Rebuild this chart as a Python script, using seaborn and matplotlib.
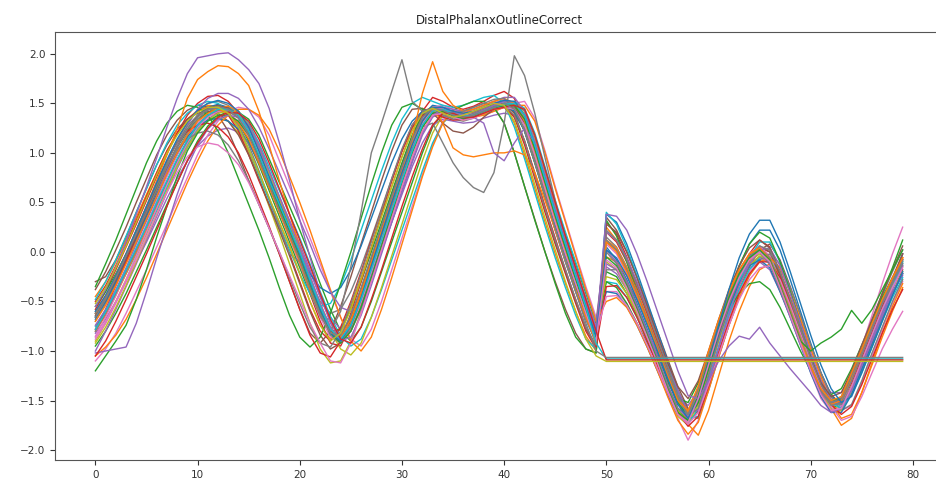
import matplotlib
matplotlib.use("Agg")
import matplotlib.pyplot as plt
import seaborn as sns
import pandas as pd

TITLE = "DistalPhalanxOutlineCorrect"
X_TICKS = [0, 10, 20, 30, 40, 50, 60, 70, 80]
Y_TICKS = [-2.0, -1.5, -1.0, -0.5, 0.0, 0.5, 1.0, 1.5, 2.0]

# ---- series values (80 time steps each) ----
s01 = [-0.65,-0.50,-0.30,-0.10,0.10,0.32,0.55,0.77,0.98,1.17,
       1.32,1.41,1.46,1.44,1.36,1.20,0.95,0.70,0.46,0.22,
       -0.02,-0.30,-0.57,-0.80,-0.86,-0.68,-0.42,-0.12,0.18,0.48,
       0.78,1.08,1.32,1.44,1.43,1.39,1.37,1.39,1.43,1.47,
       1.50,1.46,1.28,0.98,0.64,0.32,0.02,-0.28,-0.57,-0.86,
       0.05,-0.08,-0.28,-0.52,-0.78,-1.04,-1.30,-1.54,-1.63,-1.38,
       -1.05,-0.72,-0.43,-0.20,-0.04,0.02,-0.10,-0.36,-0.63,-0.90,
       -1.16,-1.39,-1.52,-1.49,-1.27,-1.02,-0.77,-0.52,-0.31,-0.12]
s02 = [-0.45,-0.30,-0.10,0.12,0.35,0.58,0.80,1.02,1.20,1.34,
       1.43,1.48,1.47,1.40,1.25,1.02,0.78,0.54,0.30,0.06,
       -0.22,-0.50,-0.74,-0.88,-0.78,-0.55,-0.26,0.05,0.36,0.66,
       0.96,1.24,1.42,1.46,1.41,1.38,1.40,1.44,1.48,1.52,
       1.48,1.30,0.98,0.64,0.30,-0.02,-0.32,-0.60,-0.85,-1.00,
       0.25,0.12,-0.08,-0.32,-0.58,-0.85,-1.12,-1.40,-1.60,-1.55,
       -1.22,-0.88,-0.56,-0.30,-0.10,0.05,0.02,-0.20,-0.48,-0.78,
       -1.05,-1.30,-1.47,-1.50,-1.32,-1.08,-0.82,-0.56,-0.32,-0.08]
s03 = [-0.95,-0.80,-0.62,-0.42,-0.20,0.02,0.25,0.48,0.70,0.92,
       1.12,1.27,1.37,1.42,1.41,1.34,1.18,0.94,0.70,0.46,
       0.22,-0.04,-0.32,-0.58,-0.80,-0.90,-0.76,-0.50,-0.20,0.10,
       0.40,0.70,1.00,1.26,1.40,1.42,1.38,1.36,1.40,1.44,
       1.47,1.50,1.42,1.15,0.82,0.50,0.18,-0.12,-0.42,-0.72,
       -0.20,-0.25,-0.42,-0.64,-0.88,-1.12,-1.38,-1.60,-1.70,-1.52,
       -1.20,-0.88,-0.58,-0.32,-0.14,-0.05,-0.08,-0.28,-0.55,-0.82,
       -1.10,-1.35,-1.55,-1.58,-1.42,-1.18,-0.92,-0.66,-0.42,-0.22]
s04 = [-0.58,-0.40,-0.18,0.05,0.28,0.52,0.76,0.99,1.20,1.38,
       1.50,1.57,1.58,1.52,1.40,1.20,0.95,0.68,0.42,0.15,
       -0.12,-0.42,-0.70,-0.92,-0.95,-0.74,-0.45,-0.13,0.20,0.52,
       0.84,1.15,1.42,1.56,1.52,1.46,1.44,1.47,1.52,1.58,
       1.62,1.55,1.32,0.98,0.62,0.28,-0.04,-0.35,-0.65,-0.92,
       0.30,0.18,-0.05,-0.32,-0.62,-0.92,-1.22,-1.50,-1.72,-1.60,
       -1.25,-0.88,-0.55,-0.25,-0.02,0.12,0.05,-0.22,-0.52,-0.84,
       -1.15,-1.42,-1.62,-1.60,-1.38,-1.10,-0.82,-0.54,-0.28,-0.02]
s05 = [-0.82,-0.68,-0.50,-0.30,-0.10,0.10,0.32,0.54,0.74,0.92,
       1.07,1.17,1.23,1.25,1.21,1.10,0.92,0.70,0.48,0.26,
       0.04,-0.20,-0.45,-0.66,-0.78,-0.72,-0.52,-0.26,0.02,0.30,
       0.58,0.86,1.10,1.28,1.34,1.32,1.30,1.31,1.35,1.38,
       1.40,1.38,1.25,0.98,0.68,0.38,0.08,-0.22,-0.50,-0.76,
       -0.15,-0.22,-0.38,-0.58,-0.80,-1.02,-1.25,-1.45,-1.55,-1.40,
       -1.12,-0.82,-0.55,-0.32,-0.16,-0.10,-0.18,-0.40,-0.64,-0.88,
       -1.10,-1.30,-1.42,-1.42,-1.26,-1.05,-0.82,-0.60,-0.40,-0.24]
s06 = [-0.38,-0.20,0.02,0.25,0.50,0.74,0.98,1.18,1.33,1.43,
       1.48,1.46,1.38,1.22,0.98,0.72,0.48,0.24,-0.02,-0.30,
       -0.58,-0.82,-0.92,-0.80,-0.55,-0.25,0.08,0.40,0.72,1.02,
       1.28,1.44,1.45,1.40,1.37,1.38,1.42,1.46,1.50,1.46,
       1.30,1.00,0.66,0.33,0.00,-0.30,-0.58,-0.82,-0.98,-1.02,
       0.35,0.22,0.00,-0.25,-0.52,-0.80,-1.08,-1.36,-1.58,-1.62,
       -1.35,-1.00,-0.66,-0.38,-0.15,0.02,0.08,-0.08,-0.35,-0.64,
       -0.94,-1.22,-1.44,-1.54,-1.44,-1.20,-0.94,-0.68,-0.42,-0.18]
s07 = [-1.10,-0.98,-0.82,-0.62,-0.40,-0.18,0.05,0.28,0.52,0.75,
       0.98,1.18,1.32,1.42,1.46,1.44,1.36,1.18,0.92,0.66,
       0.40,0.14,-0.12,-0.40,-0.66,-0.88,-0.95,-0.78,-0.50,-0.18,
       0.14,0.46,0.78,1.08,1.32,1.44,1.42,1.38,1.38,1.42,
       1.46,1.50,1.52,1.35,1.02,0.66,0.32,-0.02,-0.35,-0.66,
       -0.40,-0.40,-0.52,-0.72,-0.95,-1.18,-1.45,-1.68,-1.90,-1.70,
       -1.32,-0.98,-0.66,-0.40,-0.20,-0.08,-0.04,-0.16,-0.42,-0.70,
       -0.98,-1.25,-1.48,-1.60,-1.55,-1.32,-1.05,-0.78,-0.52,-0.30]
s08 = [-0.62,-0.46,-0.26,-0.05,0.18,0.42,0.66,0.90,1.12,1.30,
       1.43,1.50,1.52,1.48,1.38,1.20,0.96,0.70,0.45,0.20,
       -0.05,-0.30,-0.50,-0.62,-0.58,-0.40,-0.15,0.14,0.44,0.74,
       1.02,1.26,1.40,1.45,1.40,1.34,1.32,1.35,1.40,1.45,
       1.50,1.48,1.32,1.02,0.68,0.36,0.05,-0.25,-0.52,-0.70,
       0.15,0.05,-0.15,-0.40,-0.66,-0.94,-1.22,-1.48,-1.60,-1.42,
       -1.10,-0.78,-0.48,-0.24,-0.06,0.04,-0.04,-0.28,-0.56,-0.86,
       -1.14,-1.38,-1.52,-1.46,-1.22,-0.96,-0.70,-0.44,-0.20,0.02]
s09 = [-0.90,-0.72,-0.50,-0.28,-0.05,0.18,0.42,0.65,0.88,1.08,
       1.24,1.33,1.36,1.32,1.20,1.00,0.74,0.46,0.18,-0.12,
       -0.42,-0.72,-0.98,-1.12,-1.10,-0.90,-0.60,-0.28,0.05,0.38,
       0.70,1.00,1.26,1.40,1.42,1.36,1.33,1.36,1.40,1.44,
       1.46,1.42,1.24,0.94,0.60,0.28,-0.02,-0.32,-0.62,-0.90,
       -0.10,-0.18,-0.38,-0.62,-0.88,-1.15,-1.42,-1.66,-1.75,-1.50,
       -1.15,-0.82,-0.52,-0.28,-0.10,-0.02,-0.10,-0.35,-0.62,-0.90,
       -1.18,-1.42,-1.58,-1.56,-1.35,-1.10,-0.84,-0.58,-0.35,-0.15]
s10 = [-0.75,-0.60,-0.42,-0.22,-0.02,0.20,0.42,0.65,0.88,1.08,
       1.25,1.37,1.44,1.46,1.42,1.30,1.10,0.86,0.62,0.38,
       0.14,-0.12,-0.40,-0.65,-0.85,-0.95,-0.88,-0.66,-0.38,-0.08,
       0.22,0.52,0.82,1.10,1.30,1.40,1.38,1.36,1.40,1.44,
       1.48,1.52,1.45,1.20,0.86,0.52,0.20,-0.10,-0.40,-0.70,
       -0.30,-0.32,-0.46,-0.66,-0.88,-1.12,-1.38,-1.62,-1.74,-1.58,
       -1.28,-0.95,-0.64,-0.38,-0.18,-0.06,-0.06,-0.22,-0.48,-0.76,
       -1.04,-1.30,-1.50,-1.56,-1.44,-1.22,-0.96,-0.70,-0.46,-0.26]
s11 = [-0.68,-0.50,-0.30,-0.08,0.15,0.38,0.62,0.85,1.06,1.24,
       1.38,1.46,1.49,1.46,1.37,1.20,0.96,0.70,0.44,0.18,
       -0.08,-0.36,-0.62,-0.82,-0.86,-0.66,-0.38,-0.06,0.26,0.58,
       0.88,1.16,1.38,1.48,1.46,1.40,1.38,1.41,1.46,1.50,
       1.52,1.44,1.22,0.90,0.56,0.22,-0.10,-0.40,-0.68,-0.92,
       0.38,0.30,0.08,-0.20,-0.50,-0.80,-1.10,-1.40,-1.62,-1.55,
       -1.20,-0.82,-0.45,-0.15,0.08,0.22,0.22,0.02,-0.28,-0.60,
       -0.92,-1.22,-1.45,-1.55,-1.40,-1.14,-0.86,-0.58,-0.30,-0.02]
s12 = [-0.80,-0.64,-0.44,-0.22,0.00,0.22,0.46,0.70,0.92,1.12,
       1.28,1.40,1.46,1.47,1.42,1.28,1.06,0.80,0.54,0.28,
       0.02,-0.25,-0.52,-0.76,-0.88,-0.78,-0.55,-0.26,0.05,0.36,
       0.66,0.96,1.22,1.38,1.44,1.40,1.37,1.38,1.42,1.46,
       1.50,1.50,1.36,1.08,0.75,0.42,0.10,-0.20,-0.50,-0.80,
       -0.05,-0.10,-0.24,-0.44,-0.68,-0.95,-1.22,-1.50,-1.74,-1.85,
       -1.60,-1.25,-0.90,-0.60,-0.35,-0.18,-0.12,-0.22,-0.46,-0.74,
       -1.04,-1.32,-1.58,-1.75,-1.68,-1.42,-1.12,-0.82,-0.55,-0.32]
s13 = [-0.55,-0.40,-0.22,-0.02,0.20,0.42,0.64,0.86,1.06,1.22,
       1.34,1.41,1.43,1.40,1.30,1.12,0.88,0.62,0.36,0.10,
       -0.16,-0.42,-0.64,-0.80,-0.78,-0.58,-0.30,0.00,0.30,0.60,
       0.90,1.18,1.38,1.46,1.42,1.37,1.34,1.36,1.40,1.44,
       1.47,1.42,1.22,0.90,0.56,0.24,-0.06,-0.36,-0.62,-0.80,
       -0.30,-0.36,-0.52,-0.72,-0.92,-1.12,-1.32,-1.48,-1.52,-1.32,
       -1.05,-0.80,-0.58,-0.42,-0.32,-0.30,-0.38,-0.56,-0.78,-1.00,
       -1.20,-1.36,-1.44,-1.38,-1.18,-0.94,-0.70,-0.46,-0.26,-0.10]
s14 = [-0.50,-0.34,-0.14,0.08,0.32,0.56,0.80,1.02,1.20,1.34,
       1.42,1.46,1.45,1.38,1.22,0.98,0.72,0.48,0.24,-0.02,
       -0.30,-0.58,-0.80,-0.90,-0.76,-0.50,-0.20,0.12,0.42,0.72,
       1.02,1.28,1.42,1.44,1.40,1.36,1.37,1.41,1.45,1.49,
       1.49,1.36,1.08,0.74,0.40,0.08,-0.22,-0.52,-0.80,-0.98,
       0.20,0.10,-0.10,-0.36,-0.62,-0.90,-1.18,-1.45,-1.64,-1.52,
       -1.18,-0.84,-0.54,-0.28,-0.08,0.04,0.00,-0.22,-0.50,-0.80,
       -1.10,-1.36,-1.52,-1.52,-1.32,-1.06,-0.80,-0.54,-0.30,-0.06]
s15 = [-1.00,-0.80,-0.58,-0.35,-0.12,0.12,0.36,0.60,0.84,1.05,
       1.22,1.34,1.41,1.42,1.38,1.28,1.08,0.82,0.56,0.32,
       0.08,-0.18,-0.46,-0.70,-0.86,-0.80,-0.58,-0.30,0.00,0.30,
       0.60,0.90,1.18,1.36,1.42,1.40,1.37,1.37,1.40,1.44,
       1.47,1.49,1.38,1.10,0.78,0.45,0.14,-0.16,-0.46,-0.76,
       -0.12,-0.18,-0.35,-0.58,-0.82,-1.08,-1.34,-1.58,-1.68,-1.45,
       -1.12,-0.80,-0.50,-0.28,-0.12,-0.05,-0.12,-0.35,-0.62,-0.90,
       -1.18,-1.42,-1.56,-1.52,-1.30,-1.04,-0.78,-0.52,-0.32,-0.14]
s16 = [-0.30,-0.25,-0.08,0.15,0.40,0.64,0.88,1.08,1.24,1.34,
       1.40,1.42,1.40,1.32,1.18,0.98,0.74,0.48,0.22,-0.04,
       -0.32,-0.60,-0.84,-0.98,-0.92,-0.70,-0.40,-0.08,0.24,0.56,
       0.86,1.14,1.36,1.46,1.44,1.40,1.38,1.40,1.44,1.48,
       1.50,1.40,1.12,0.78,0.44,0.10,-0.20,-0.50,-0.78,-0.95,
       0.10,0.02,-0.18,-0.42,-0.68,-0.95,-1.22,-1.48,-1.66,-1.50,
       -1.15,-0.80,-0.48,-0.22,-0.04,0.06,0.00,-0.24,-0.52,-0.82,
       -1.12,-1.38,-1.54,-1.50,-1.28,-1.02,-0.76,-0.50,-0.26,-0.02]
s17 = [-0.85,-0.66,-0.44,-0.20,0.04,0.28,0.52,0.76,0.98,1.16,
       1.30,1.38,1.42,1.40,1.32,1.16,0.92,0.66,0.40,0.14,
       -0.12,-0.40,-0.66,-0.86,-0.92,-0.76,-0.50,-0.20,0.12,0.44,
       0.76,1.06,1.32,1.46,1.48,1.44,1.40,1.42,1.46,1.50,
       1.54,1.50,1.32,1.00,0.66,0.32,0.00,-0.30,-0.60,-0.88,
       0.08,-0.02,-0.22,-0.46,-0.72,-0.98,-1.25,-1.50,-1.62,-1.42,
       -1.08,-0.74,-0.44,-0.20,-0.02,0.06,-0.04,-0.30,-0.60,-0.92,
       -1.22,-1.48,-1.62,-1.55,-1.28,-0.96,-0.64,-0.32,-0.02,0.25]
s18 = [-0.70,-0.52,-0.32,-0.10,0.12,0.35,0.58,0.81,1.02,1.20,
       1.34,1.43,1.47,1.45,1.38,1.24,1.02,0.76,0.50,0.25,
       -0.02,-0.30,-0.58,-0.82,-0.92,-0.80,-0.55,-0.24,0.08,0.40,
       0.72,1.02,1.28,1.42,1.44,1.38,1.35,1.37,1.42,1.46,
       1.50,1.48,1.32,1.02,0.68,0.34,0.02,-0.28,-0.58,-0.88,
       -0.18,-0.18,-0.30,-0.48,-0.70,-0.94,-1.20,-1.45,-1.66,-1.68,
       -1.40,-1.06,-0.74,-0.46,-0.24,-0.08,-0.02,-0.12,-0.36,-0.64,
       -0.94,-1.22,-1.46,-1.60,-1.54,-1.30,-1.02,-0.76,-0.50,-0.28]
s19 = [-0.92,-0.76,-0.56,-0.34,-0.10,0.14,0.38,0.62,0.86,1.06,
       1.22,1.33,1.40,1.42,1.38,1.26,1.06,0.80,0.54,0.28,
       0.02,-0.26,-0.54,-0.80,-0.98,-1.04,-0.92,-0.66,-0.36,-0.04,
       0.28,0.60,0.92,1.20,1.38,1.42,1.38,1.36,1.39,1.43,
       1.46,1.48,1.40,1.14,0.80,0.46,0.14,-0.18,-0.48,-0.78,
       -0.25,-0.28,-0.42,-0.62,-0.86,-1.10,-1.36,-1.60,-1.72,-1.55,
       -1.22,-0.90,-0.60,-0.34,-0.14,-0.04,-0.08,-0.30,-0.58,-0.86,
       -1.14,-1.40,-1.58,-1.60,-1.42,-1.18,-0.92,-0.66,-0.42,-0.20]
s20 = [-0.48,-0.30,-0.08,0.16,0.40,0.64,0.88,1.10,1.28,1.40,
       1.48,1.52,1.50,1.42,1.26,1.04,0.78,0.52,0.26,0.02,
       -0.22,-0.42,-0.55,-0.52,-0.34,-0.08,0.22,0.52,0.82,1.10,
       1.34,1.50,1.56,1.52,1.48,1.46,1.48,1.52,1.56,1.58,
       1.50,1.26,0.94,0.60,0.26,-0.06,-0.36,-0.64,-0.88,-0.98,
       0.40,0.28,0.04,-0.24,-0.54,-0.84,-1.14,-1.44,-1.68,-1.66,
       -1.34,-0.96,-0.60,-0.30,-0.06,0.10,0.10,-0.10,-0.40,-0.72,
       -1.04,-1.32,-1.52,-1.58,-1.44,-1.18,-0.90,-0.62,-0.36,-0.10]
s21 = [-0.66,-0.50,-0.30,-0.08,0.14,0.36,0.58,0.80,1.00,1.16,
       1.27,1.33,1.35,1.32,1.24,1.10,0.90,0.66,0.42,0.18,
       -0.04,-0.22,-0.36,-0.42,-0.36,-0.18,0.06,0.34,0.62,0.90,
       1.14,1.32,1.42,1.44,1.40,1.36,1.35,1.38,1.42,1.46,
       1.48,1.42,1.22,0.92,0.58,0.26,-0.04,-0.34,-0.60,-0.78,
       -0.40,-0.42,-0.55,-0.74,-0.96,-1.20,-1.44,-1.64,-1.70,-1.50,
       -1.18,-0.86,-0.56,-0.32,-0.14,-0.08,-0.16,-0.40,-0.66,-0.94,
       -1.22,-1.46,-1.62,-1.62,-1.44,-1.18,-0.92,-0.66,-0.42,-0.22]
s22 = [-1.05,-0.96,-0.84,-0.68,-0.48,-0.26,-0.02,0.22,0.46,0.70,
       0.92,1.12,1.28,1.38,1.44,1.44,1.38,1.24,1.02,0.76,
       0.50,0.22,-0.08,-0.38,-0.66,-0.90,-1.00,-0.86,-0.58,-0.26,
       0.08,0.42,0.76,1.06,1.30,1.42,1.40,1.36,1.38,1.42,
       1.46,1.48,1.48,1.32,1.00,0.64,0.30,-0.04,-0.38,-0.70,
       -0.50,-0.46,-0.56,-0.74,-0.96,-1.20,-1.46,-1.70,-1.84,-1.72,
       -1.40,-1.06,-0.74,-0.46,-0.24,-0.10,-0.06,-0.16,-0.40,-0.68,
       -0.98,-1.26,-1.52,-1.68,-1.64,-1.42,-1.14,-0.86,-0.60,-0.36]
s23 = [-0.35,-0.12,0.12,0.38,0.64,0.90,1.12,1.30,1.42,1.48,
       1.46,1.38,1.22,1.00,0.74,0.48,0.22,-0.06,-0.36,-0.64,
       -0.86,-0.96,-0.86,-0.62,-0.32,0.00,0.34,0.68,1.00,1.28,
       1.46,1.50,1.44,1.40,1.40,1.43,1.48,1.52,1.52,1.46,
       1.30,1.00,0.66,0.32,0.00,-0.32,-0.62,-0.86,-0.98,-1.02,
       0.32,0.16,-0.10,-0.40,-0.70,-1.00,-1.28,-1.52,-1.66,-1.52,
       -1.18,-0.80,-0.44,-0.14,0.08,0.20,0.14,-0.10,-0.40,-0.72,
       -1.04,-1.32,-1.50,-1.48,-1.26,-0.98,-0.70,-0.42,-0.16,0.12]
s24 = [-0.78,-0.58,-0.34,-0.10,0.16,0.42,0.68,0.92,1.10,1.22,
       1.28,1.30,1.26,1.16,1.00,0.78,0.52,0.26,-0.02,-0.30,
       -0.58,-0.84,-1.02,-1.06,-0.90,-0.62,-0.30,0.04,0.38,0.72,
       1.02,1.26,1.38,1.40,1.36,1.33,1.34,1.38,1.42,1.46,
       1.46,1.36,1.12,0.80,0.46,0.14,-0.18,-0.48,-0.76,-0.96,
       -0.35,-0.34,-0.46,-0.66,-0.90,-1.14,-1.40,-1.62,-1.76,-1.66,
       -1.36,-1.02,-0.70,-0.42,-0.22,-0.10,-0.10,-0.26,-0.52,-0.80,
       -1.08,-1.34,-1.54,-1.64,-1.56,-1.34,-1.08,-0.82,-0.58,-0.38]
s25 = [-0.74,-0.58,-0.38,-0.16,0.08,0.32,0.56,0.82,1.06,1.28,
       1.44,1.55,1.60,1.60,1.55,1.44,1.26,1.04,0.80,0.56,
       0.32,0.08,-0.18,-0.40,-0.56,-0.60,-0.48,-0.24,0.06,0.38,
       0.70,1.00,1.26,1.42,1.46,1.44,1.42,1.44,1.48,1.52,
       1.56,1.56,1.42,1.12,0.78,0.44,0.12,-0.18,-0.48,-0.76,
       0.20,0.12,-0.06,-0.30,-0.56,-0.84,-1.12,-1.40,-1.62,-1.60,
       -1.30,-0.96,-0.62,-0.34,-0.12,0.02,0.04,-0.14,-0.42,-0.72,
       -1.02,-1.30,-1.50,-1.54,-1.38,-1.14,-0.88,-0.62,-0.38,-0.14]
s26 = [-0.64,-0.48,-0.28,-0.06,0.16,0.39,0.62,0.85,1.06,1.24,
       1.37,1.45,1.48,1.45,1.36,1.19,0.95,0.70,0.45,0.20,
       -0.06,-0.34,-0.60,-0.80,-0.84,-0.66,-0.38,-0.08,0.22,0.52,
       0.82,1.10,1.32,1.40,1.30,1.22,1.20,1.26,1.36,1.44,
       1.48,1.46,1.30,1.00,0.66,0.34,0.02,-0.28,-0.56,-0.82,
       0.28,0.20,0.00,-0.26,-0.54,-0.84,-1.12,-1.36,-1.48,-1.30,
       -1.00,-0.68,-0.38,-0.14,0.04,0.12,0.04,-0.20,-0.48,-0.78,
       -1.08,-1.32,-1.46,-1.42,-1.20,-0.94,-0.68,-0.42,-0.18,0.06]
s27 = [-0.86,-0.70,-0.50,-0.28,-0.04,0.20,0.44,0.68,0.90,1.10,
       1.26,1.36,1.42,1.42,1.36,1.22,1.00,0.74,0.48,0.22,
       -0.04,-0.32,-0.60,-0.82,-0.90,-0.76,-0.50,-0.20,0.12,0.44,
       0.74,1.04,1.30,1.44,1.44,1.40,1.38,1.40,1.44,1.48,
       1.52,1.50,1.34,1.04,0.70,0.36,0.04,-0.26,-0.56,-0.84,
       -0.45,-0.44,-0.54,-0.72,-0.94,-1.18,-1.42,-1.64,-1.74,-1.62,
       -1.34,-1.04,-0.74,-0.48,-0.28,-0.16,-0.14,-0.28,-0.54,-0.82,
       -1.10,-1.36,-1.56,-1.70,-1.66,-1.46,-1.22,-0.98,-0.78,-0.60]
s28 = [-0.60,-0.44,-0.24,-0.02,0.22,0.46,0.68,0.88,1.04,1.14,
       1.20,1.22,1.18,1.08,0.92,0.72,0.48,0.24,0.00,-0.26,
       -0.52,-0.76,-0.92,-0.96,-0.80,-0.52,-0.22,0.10,0.42,0.74,
       1.04,1.28,1.40,1.42,1.38,1.34,1.36,1.40,1.44,1.48,
       1.48,1.38,1.12,0.78,0.44,0.12,-0.18,-0.48,-0.76,-0.94,
       0.22,0.12,-0.08,-0.34,-0.60,-0.88,-1.16,-1.44,-1.66,-1.58,
       -1.24,-0.88,-0.54,-0.26,-0.06,0.06,0.02,-0.20,-0.48,-0.78,
       -1.08,-1.34,-1.52,-1.54,-1.36,-1.10,-0.84,-0.58,-0.32,-0.08]

# outlying series
o01 = [-0.55,-0.38,-0.15,0.10,0.38,0.66,0.95,1.26,1.55,1.80,
       1.96,1.98,2.00,2.01,1.94,1.84,1.70,1.45,1.10,0.72,
       0.32,-0.05,-0.42,-0.72,-0.88,-0.72,-0.44,-0.12,0.20,0.52,
       0.82,1.10,1.34,1.44,1.42,1.38,1.36,1.38,1.43,1.48,
       1.52,1.50,1.34,1.04,0.70,0.36,0.04,-0.28,-0.58,-0.88,
       0.02,-0.10,-0.30,-0.54,-0.80,-1.06,-1.34,-1.58,-1.66,-1.40,
       -1.06,-0.74,-0.45,-0.22,-0.06,0.00,-0.12,-0.38,-0.66,-0.94,
       -1.20,-1.42,-1.54,-1.50,-1.28,-1.02,-0.76,-0.50,-0.28,-0.08]
o02 = [-0.62,-0.45,-0.24,-0.02,0.22,0.46,0.72,0.98,1.24,1.55,
       1.74,1.82,1.88,1.87,1.80,1.68,1.42,1.08,0.72,0.38,
       0.05,-0.28,-0.58,-0.82,-0.90,-0.72,-0.44,-0.12,0.20,0.52,
       0.80,1.15,1.60,1.92,1.62,1.48,1.42,1.44,1.48,1.52,
       1.55,1.50,1.32,1.00,0.66,0.32,0.00,-0.30,-0.60,-0.88,
       0.12,0.04,-0.16,-0.40,-0.66,-0.94,-1.22,-1.48,-1.62,-1.40,
       -1.05,-0.72,-0.42,-0.18,-0.02,0.04,-0.06,-0.32,-0.60,-0.88,
       -1.16,-1.40,-1.54,-1.50,-1.28,-1.02,-0.76,-0.50,-0.28,-0.06]
o03 = [-0.66,-0.48,-0.26,-0.04,0.20,0.44,0.68,0.90,1.10,1.27,
       1.38,1.44,1.45,1.40,1.28,1.08,0.82,0.54,0.26,-0.02,
       -0.10,-0.40,-0.65,-0.80,-0.60,-0.15,0.40,1.00,1.30,1.62,
       1.94,1.52,1.42,1.45,1.42,1.40,1.42,1.46,1.50,1.54,
       1.55,1.45,1.22,0.90,0.56,0.22,-0.10,-0.40,-0.68,-0.90,
       0.12,0.02,-0.18,-0.42,-0.68,-0.95,-1.22,-1.48,-1.64,-1.45,
       -1.10,-0.76,-0.46,-0.22,-0.05,0.03,-0.06,-0.32,-0.60,-0.88,
       -1.16,-1.40,-1.55,-1.52,-1.30,-1.04,-0.78,-0.52,-0.30,-0.08]
o04 = [-0.80,-0.62,-0.42,-0.20,0.02,0.25,0.48,0.71,0.93,1.12,
       1.28,1.38,1.43,1.42,1.35,1.20,0.97,0.72,0.47,0.22,
       -0.04,-0.32,-0.60,-0.84,-0.92,-0.76,-0.48,-0.16,0.16,0.46,
       0.76,1.04,1.26,1.30,1.10,0.90,0.75,0.65,0.60,0.80,
       1.30,1.98,1.78,1.40,0.95,0.52,0.12,-0.24,-0.56,-0.86,
       0.00,-0.12,-0.32,-0.56,-0.82,-1.08,-1.35,-1.58,-1.64,-1.38,
       -1.04,-0.72,-0.44,-0.22,-0.06,0.00,-0.12,-0.38,-0.64,-0.92,
       -1.18,-1.40,-1.52,-1.48,-1.25,-1.00,-0.75,-0.50,-0.30,-0.12]
o05 = [-0.70,-0.54,-0.34,-0.12,0.10,0.33,0.56,0.79,1.00,1.18,
       1.32,1.40,1.44,1.40,1.30,1.14,0.90,0.65,0.40,0.15,
       -0.10,-0.38,-0.62,-0.82,-0.86,-0.68,-0.40,-0.10,0.22,0.52,
       0.82,1.10,1.32,1.45,1.30,1.05,0.98,0.96,0.98,1.00,
       1.00,1.02,0.98,0.80,0.52,0.22,-0.08,-0.38,-0.66,-0.92,
       0.10,0.00,-0.20,-0.44,-0.70,-0.98,-1.25,-1.50,-1.60,-1.35,
       -1.00,-0.68,-0.40,-0.18,-0.02,0.04,-0.08,-0.34,-0.62,-0.90,
       -1.16,-1.38,-1.50,-1.46,-1.22,-0.98,-0.72,-0.48,-0.26,-0.06]
o06 = [-1.20,-1.05,-0.90,-0.74,-0.48,-0.18,0.15,0.46,0.76,1.02,
       1.20,1.32,1.38,1.38,1.32,1.18,0.96,0.72,0.46,0.20,
       -0.06,-0.34,-0.60,-0.82,-0.92,-0.80,-0.56,-0.26,0.06,0.38,
       0.70,1.00,1.26,1.40,1.42,1.37,1.35,1.37,1.41,1.45,
       1.48,1.48,1.34,1.04,0.70,0.36,0.04,-0.28,-0.58,-0.88,
       -0.05,-0.14,-0.34,-0.58,-0.84,-1.10,-1.38,-1.62,-1.70,-1.45,
       -1.10,-0.76,-0.46,-0.22,-0.06,0.02,-0.08,-0.34,-0.62,-0.90,
       -1.00,-0.92,-0.86,-0.78,-0.59,-0.72,-0.58,-0.38,-0.18,0.02]
o07 = [-1.02,-1.00,-0.98,-0.96,-0.72,-0.40,-0.06,0.26,0.58,0.86,
       1.08,1.24,1.34,1.38,1.36,1.26,1.06,0.82,0.56,0.30,
       0.04,-0.24,-0.52,-0.76,-0.90,-0.86,-0.64,-0.34,-0.02,0.30,
       0.62,0.92,1.20,1.38,1.44,1.42,1.38,1.36,1.30,1.00,
       0.92,1.10,1.25,1.10,0.78,0.44,0.12,-0.20,-0.52,-0.82,
       0.38,0.36,0.22,-0.02,-0.30,-0.60,-0.90,-1.20,-1.45,-1.48,
       -1.30,-1.10,-0.95,-0.85,-0.88,-0.76,-0.92,-1.05,-1.18,-1.30,
       -1.42,-1.55,-1.62,-1.58,-1.40,-1.15,-0.90,-0.65,-0.42,-0.22]
o08 = [-0.60,-0.44,-0.24,-0.02,0.22,0.46,0.70,0.93,1.14,1.31,
       1.43,1.50,1.53,1.50,1.42,1.26,1.02,0.76,0.50,0.24,
       -0.02,-0.30,-0.58,-0.82,-0.90,-0.74,-0.46,-0.14,0.18,0.50,
       0.80,1.08,1.32,1.46,1.46,1.42,1.40,1.42,1.46,1.50,
       1.53,1.52,1.38,1.08,0.74,0.40,0.08,-0.24,-0.55,-0.85,
       0.02,-0.06,-0.24,-0.48,-0.74,-1.00,-1.28,-1.54,-1.68,-1.48,
       -1.12,-0.74,-0.38,-0.06,0.18,0.32,0.32,0.10,-0.20,-0.52,
       -0.84,-1.14,-1.38,-1.52,-1.46,-1.22,-0.96,-0.70,-0.44,-0.20]
o09 = [-0.88,-0.72,-0.52,-0.30,-0.08,0.15,0.38,0.60,0.80,0.96,
       1.06,1.10,1.08,1.00,0.88,0.70,0.48,0.24,0.00,-0.24,
       -0.48,-0.72,-0.92,-1.10,-1.12,-0.92,-0.62,-0.30,0.02,0.34,
       0.66,0.96,1.22,1.38,1.40,1.36,1.33,1.35,1.40,1.44,
       1.46,1.44,1.28,0.98,0.64,0.30,-0.02,-0.32,-0.62,-0.90,
       -0.08,-0.16,-0.36,-0.60,-0.86,-1.12,-1.40,-1.64,-1.72,-1.48,
       -1.14,-0.80,-0.50,-0.26,-0.08,0.00,-0.10,-0.36,-0.64,-0.92,
       -1.20,-1.44,-1.60,-1.58,-1.36,-1.10,-0.84,-0.58,-0.36,-0.16]

# series that stay flat after step 50
p01 = [-0.78,-0.60,-0.40,-0.18,0.04,0.26,0.50,0.72,0.94,1.13,
       1.28,1.38,1.44,1.44,1.38,1.22,0.98,0.72,0.48,0.24,
       0.00,-0.28,-0.55,-0.78,-0.88,-0.74,-0.48,-0.18,0.12,0.42,
       0.72,1.02,1.28,1.42,1.44,1.40,1.37,1.38,1.42,1.46,
       1.49,1.50,1.38,1.08,0.74,0.40,0.08,-0.24,-0.56,-0.92,
       -1.08,-1.08,-1.08,-1.08,-1.08,-1.08,-1.08,-1.08,-1.08,-1.08,
       -1.08,-1.08,-1.08,-1.08,-1.08,-1.08,-1.08,-1.08,-1.08,-1.08,
       -1.08,-1.08,-1.08,-1.08,-1.08,-1.08,-1.08,-1.08,-1.08,-1.08]
p02 = [-1.05,-0.90,-0.70,-0.48,-0.25,-0.02,0.22,0.46,0.70,0.92,
       1.10,1.25,1.36,1.41,1.40,1.32,1.14,0.90,0.64,0.38,
       0.12,-0.14,-0.42,-0.68,-0.88,-0.92,-0.76,-0.48,-0.18,0.14,
       0.46,0.76,1.04,1.28,1.40,1.40,1.36,1.36,1.40,1.44,
       1.46,1.48,1.44,1.18,0.84,0.50,0.16,-0.16,-0.48,-0.80,
       -1.09,-1.09,-1.09,-1.09,-1.09,-1.09,-1.09,-1.09,-1.09,-1.09,
       -1.09,-1.09,-1.09,-1.09,-1.09,-1.09,-1.09,-1.09,-1.09,-1.09,
       -1.09,-1.09,-1.09,-1.09,-1.09,-1.09,-1.09,-1.09,-1.09,-1.09]
p03 = [-0.62,-0.46,-0.26,-0.04,0.18,0.40,0.63,0.86,1.06,1.24,
       1.36,1.44,1.47,1.44,1.35,1.18,0.94,0.68,0.42,0.18,
       -0.08,-0.36,-0.62,-0.82,-0.84,-0.64,-0.36,-0.05,0.26,0.56,
       0.86,1.14,1.36,1.45,1.43,1.38,1.36,1.38,1.42,1.46,
       1.50,1.44,1.24,0.92,0.58,0.24,-0.08,-0.40,-0.72,-1.00,
       -1.065,-1.065,-1.065,-1.065,-1.065,-1.065,-1.065,-1.065,-1.065,-1.065,
       -1.065,-1.065,-1.065,-1.065,-1.065,-1.065,-1.065,-1.065,-1.065,-1.065,
       -1.065,-1.065,-1.065,-1.065,-1.065,-1.065,-1.065,-1.065,-1.065,-1.065]
p04 = [-0.52,-0.36,-0.16,0.06,0.30,0.54,0.78,1.00,1.18,1.32,
       1.41,1.46,1.46,1.40,1.26,1.04,0.80,0.55,0.30,0.05,
       -0.22,-0.50,-0.74,-0.90,-0.82,-0.58,-0.28,0.04,0.36,0.66,
       0.96,1.22,1.40,1.45,1.40,1.36,1.38,1.42,1.46,1.50,
       1.48,1.32,1.02,0.68,0.34,0.02,-0.30,-0.60,-0.88,-1.05,
       -1.105,-1.105,-1.105,-1.105,-1.105,-1.105,-1.105,-1.105,-1.105,-1.105,
       -1.105,-1.105,-1.105,-1.105,-1.105,-1.105,-1.105,-1.105,-1.105,-1.105,
       -1.105,-1.105,-1.105,-1.105,-1.105,-1.105,-1.105,-1.105,-1.105,-1.105]

regular = [s01, s02, s03, s04, s05, s06, s07, s08, s09, s10,
           s11, s12, s13, s14, s15, s16, s17, s18, s19, s20,
           s21, s22, s23, s24, s25, s26, s27, s28]
outliers = [o01, o02, o03, o04, o05, o06, o07, o08, o09]
padded = [p01, p02, p03, p04]

tab10 = sns.color_palette("tab10", 10)
outlier_colors = [tab10[4], tab10[1], tab10[7], tab10[7], tab10[1],
                  tab10[2], tab10[4], tab10[0], tab10[6]]
padded_colors = [tab10[9], tab10[3], tab10[7], tab10[8]]

all_series = regular + outliers + padded
colors = [tab10[i % 10] for i in range(len(regular))] + outlier_colors + padded_colors

rows = []
names = []
for k, vals in enumerate(all_series):
    name = f"series{k:02d}"
    names.append(name)
    for t, v in enumerate(vals):
        rows.append((name, t, v))
df = pd.DataFrame(rows, columns=["series", "t", "value"])

fig = plt.figure(figsize=(9.36, 4.79), dpi=100)
ax = fig.add_axes([0.0588, 0.0397, 0.9487, 0.8935])
sns.lineplot(data=df, x="t", y="value", hue="series", hue_order=names,
             palette=dict(zip(names, colors)), estimator=None,
             legend=False, linewidth=1.0, ax=ax)

ax.set_xlim(-3.95, 82.95)
ax.set_ylim(-2.1, 2.22)
ax.set_xticks(X_TICKS)
ax.set_yticks(Y_TICKS)
ax.set_xticklabels([str(v) for v in X_TICKS])
ax.set_yticklabels([f"{v:.1f}".replace("-", "\u2212") for v in Y_TICKS])
ax.set_xlabel("")
ax.set_ylabel("")
ax.tick_params(labelsize=7.5, colors="#333333")
for sp in ax.spines.values():
    sp.set_color("#555555")
ax.set_title(TITLE, fontsize=8.5, color="#222222")

fig.savefig("out.png", dpi=100)
